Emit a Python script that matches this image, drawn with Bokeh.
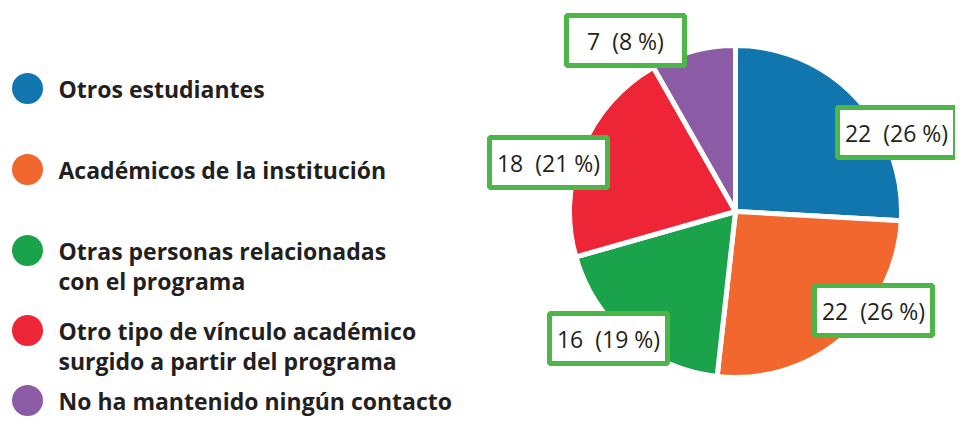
import numpy as np
from bokeh.plotting import figure
from bokeh.models import ColumnDataSource, Range1d
from bokeh.core.properties import value
from bokeh.embed import file_html
from bokeh.resources import INLINE

# ---- data ----
categories = [
    "Otros estudiantes",
    "Académicos de la institución",
    "Otras personas relacionadas\ncon el programa",
    "Otro tipo de vínculo académico\nsurgido a partir del programa",
    "No ha mantenido ningún contacto",
]
counts = [22, 22, 16, 18, 7]
percents = [26, 26, 19, 21, 8]
colors = ["#1176ae", "#f1672d", "#1ba34b", "#ed2536", "#8c5ba5"]

# ---- layout (picture pixel coords, y down) ----
W, H = 955, 416
def X(sx):
    return sx
def Y(sy):
    return H - sy

pie_cx, pie_cy, pie_r = 735, 211, 166
label_centers = [(896, 132), (873, 310), (608, 338), (548, 162), (625, 40)]
box_w, box_h = 118, 50
legend_y = [88, 169, 250, 330, 400]
legend_line_h = 30

p = figure(width=W, height=H, output_backend="svg", toolbar_location=None,
           x_range=Range1d(0, W), y_range=Range1d(0, H),
           min_border=0, outline_line_color=None)
p.axis.visible = False
p.grid.visible = False
p.background_fill_color = "white"

# pie
vals = np.array(counts, dtype=float)
frac = vals / vals.sum()
cum = np.concatenate([[0], np.cumsum(frac)])
start = np.pi / 2 - 2 * np.pi * cum[:-1]
end = np.pi / 2 - 2 * np.pi * cum[1:]
src = ColumnDataSource(dict(start=start, end=end, color=colors))
p.wedge(x=X(pie_cx), y=Y(pie_cy), radius=pie_r, start_angle="start", end_angle="end",
        direction="clock", fill_color="color", line_color="white", line_width=5, source=src)

# labels
labels = [f"{c}\u00a0\u00a0({pc}\u00a0%)" for c, pc in zip(counts, percents)]
lsrc = ColumnDataSource(dict(x=[X(a) for a, b in label_centers], y=[Y(b) for a, b in label_centers], t=labels))
p.rect(x="x", y="y", width=box_w, height=box_h, fill_color="white", line_color="#4cb748",
       line_width=5, source=lsrc)
p.text(x="x", y="y", text="t", text_align="center", text_baseline="middle",
       text_font=value("Open Sans"), text_font_size="23px", text_color="#231f20", source=lsrc)

# legend
p.scatter(x=[X(27)] * len(categories), y=[Y(v) for v in legend_y], size=31,
          fill_color=colors, line_color=None)
lx, ly, lt = [], [], []
for cat, yy in zip(categories, legend_y):
    lines = cat.split("\n")
    for i, ln in enumerate(lines):
        lx.append(X(58))
        ly.append(Y(yy + i * legend_line_h))
        lt.append(ln)
p.text(x=lx, y=ly, text=lt, text_align="left", text_baseline="middle",
       text_font=value("Open Sans"), text_font_style="bold", text_font_size="23px",
       text_color="#231f20")

open("out.html", "w").write(file_html(p, INLINE))
